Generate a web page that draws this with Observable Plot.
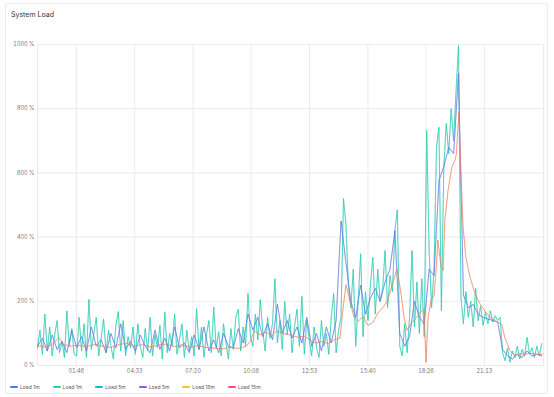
<!DOCTYPE html>
<html>
<head>
<meta charset="utf-8">
<script src="https://cdn.jsdelivr.net/npm/d3@7"></script>
<script src="https://cdn.jsdelivr.net/npm/@observablehq/plot@0.6"></script>
<style>
  html, body { margin: 0; padding: 0; background: #fff; }
  body { width: 554px; height: 397px; position: relative; overflow: hidden; font-family: Inter, "Noto Sans", sans-serif; }
  #card { position: absolute; left: 5px; top: 3px; width: 543px; height: 391px; border: 1px solid #ececec; border-radius: 2px; box-sizing: border-box; }
  #title { position: absolute; left: 11px; top: 10px; font-size: 7px; color: #333; }
  #chart { position: absolute; left: 0; top: 0; }
  #legend { position: absolute; left: 10px; top: 384px; display: flex; gap: 13px; font-size: 5px; color: #555; }
  .item { display: flex; align-items: center; gap: 2px; }
  .sw { width: 8px; height: 2px; border-radius: 1px; }
</style>
</head>
<body>
<div id="card"></div>
<div id="title">System Load</div>
<div id="chart"></div>
<div id="legend"></div>
<script>
// Series names and colours (legend order)
const seriesNames = ["Load 1m", "Load 1m", "Load 5m", "Load 5m", "Load 15m", "Load 15m"];
const seriesColors = ["#3d7ff2", "#22d6a3", "#1cb8d0", "#7b61f0", "#f6c22a", "#f04e7c"];

// X ticks (minutes since midnight) and labels
const xTickMinutes = [106, 273, 440, 606, 773, 940, 1106, 1273];
const xTickLabels = ["01:46", "04:33", "07:20", "10:06", "12:53", "15:40", "18:26", "21:13"];
const yTicks = [0, 200, 400, 600, 800, 1000];

// Load 1m (%), one sample every 7 minutes starting at -5 min
const load1Start = -5, load1Step = 7;
const load1 = [
  55,110,35,160,45,120,30,95,140,40,75,25,170,60,115,35,
  30,150,45,130,25,206,50,100,150,30,85,145,40,110,60,20,125,168,45,140,30,90,55,120,
  35,130,60,25,115,45,150,30,95,55,125,20,166,40,100,60,160,35,80,130,25,110,45,90,
  30,177,50,120,25,95,140,40,182,55,105,30,130,70,20,115,50,150,175,45,120,60,225,90,
  60,160,80,205,110,45,150,85,130,270,70,140,50,199,95,160,40,120,175,60,215,35,140,80,
  30,120,55,25,140,60,100,35,150,224,40,110,150,
  520,440,250,180,300,60,200,348,90,230,140,
  250,337,160,300,200,240,358,180,280,230,420,
  485,60,30,130,40,150,358,120,260,100,270,90,
  732,358,180,300,680,742,171,620,754,660,800,700,857,997,210,
  130,230,150,200,120,240,140,185,125,165,130,170,135,155,140,150,
  40,15,55,10,45,25,60,20,50,30,88,35,55,25,60,30,68
];

// Load 5m (%), one sample every 14 minutes starting at -5 min
const load5Start = -5, load5Step = 14;
const load5 = [
  60,85,45,95,50,75,40,110,
  55,90,45,120,60,80,40,100,55,130,50,75,
  45,95,60,40,110,50,85,45,120,55,70,40,
  95,50,120,45,80,40,100,60,55,115,70,160,
  110,150,90,130,80,190,100,140,85,120,70,150,
  60,100,45,120,70,140,
  450,320,200,150,250,160,210,240,200,260,300,420,100,60,90,200,150,130,
  300,280,576,620,680,660,910,220,180,190,160,150,145,140,135,50,30,20,35,25,45,30,35,30
];

// Load 15m (%): sample times (minutes) and values
const load15Times = [
  -4,15,35,57,69,89,112,135,158,181,203,226,249,272,295,318,341,363,386,409,432,455,478,501,523,546,569,592,
  603,615,632,649,666,678,695,718,740,758,775,792,809,826,843,860,
  869,877,889,900,912,926,940,955,969,983,997,1012,1023,1035,1043,1052,1063,1075,1089,1100,
  1106,1112,1120,1129,1135,1140,1149,1155,1160,1169,1180,1189,1193,1200,1206,1212,1220,1232,1246,1260,1274,1289,1303,1317,1323,
  1331,1346,1360,1374,1389,1403,1417,1432,1440
];
const load15 = [
  62,58,64,87,66,60,63,58,66,60,56,64,70,60,65,58,63,67,59,64,57,62,56,54,52,56,53,60,
  75,108,95,104,92,108,100,95,88,92,78,70,75,68,80,85,
  180,252,200,150,138,152,125,135,165,180,205,260,302,220,150,110,130,145,165,175,
  10,150,200,218,300,390,310,296,452,545,618,639,660,789,597,431,337,275,224,193,170,150,140,132,128,
  88,47,31,37,35,38,36,34,36
];

const d1 = load1.map((v, i) => ({t: load1Start + i * load1Step, v}));
const d5 = load5.map((v, i) => ({t: load5Start + i * load5Step, v}));
const d15 = load15.map((v, i) => ({t: load15Times[i], v}));
const seriesData = [d1, d1, d5, d5, d15, d15];
const seriesOpacity = [0.3, 0.8, 0.4, 0.7, 0.55, 0.5];

const gridColor = "#ebebef";
const lineMarks = seriesData.map((d, k) =>
  Plot.line(d, {x: "t", y: "v", stroke: seriesColors[k], strokeWidth: 0.9, strokeOpacity: seriesOpacity[k], clip: true})
);

const chart = Plot.plot({
  width: 554,
  height: 380,
  marginLeft: 37,
  marginRight: 11,
  marginTop: 44,
  marginBottom: 15,
  style: {fontFamily: "Inter, 'Noto Sans', sans-serif", fontSize: "5.5px", color: "#777", background: "transparent"},
  x: {type: "linear", domain: [-5, 1442], label: null},
  y: {domain: [0, 1000], label: null},
  marks: [
    Plot.gridY(yTicks, {stroke: gridColor, strokeOpacity: 1}),
    Plot.gridX(xTickMinutes, {stroke: gridColor, strokeOpacity: 1}),
    Plot.frame({stroke: gridColor}),
    Plot.axisY(yTicks, {label: null, tickSize: 0, tickPadding: 3, tickFormat: d => `${d} %`}),
    Plot.axisX(xTickMinutes, {label: null, tickSize: 0, tickPadding: 4, tickFormat: d => xTickLabels[xTickMinutes.indexOf(d)]}),
    ...lineMarks
  ]
});
document.getElementById("chart").appendChild(chart);

const legend = document.getElementById("legend");
seriesNames.forEach((name, k) => {
  const item = document.createElement("div");
  item.className = "item";
  const sw = document.createElement("span");
  sw.className = "sw";
  sw.style.background = seriesColors[k];
  const label = document.createElement("span");
  label.textContent = name;
  item.appendChild(sw);
  item.appendChild(label);
  legend.appendChild(item);
});
</script>
</body>
</html>
